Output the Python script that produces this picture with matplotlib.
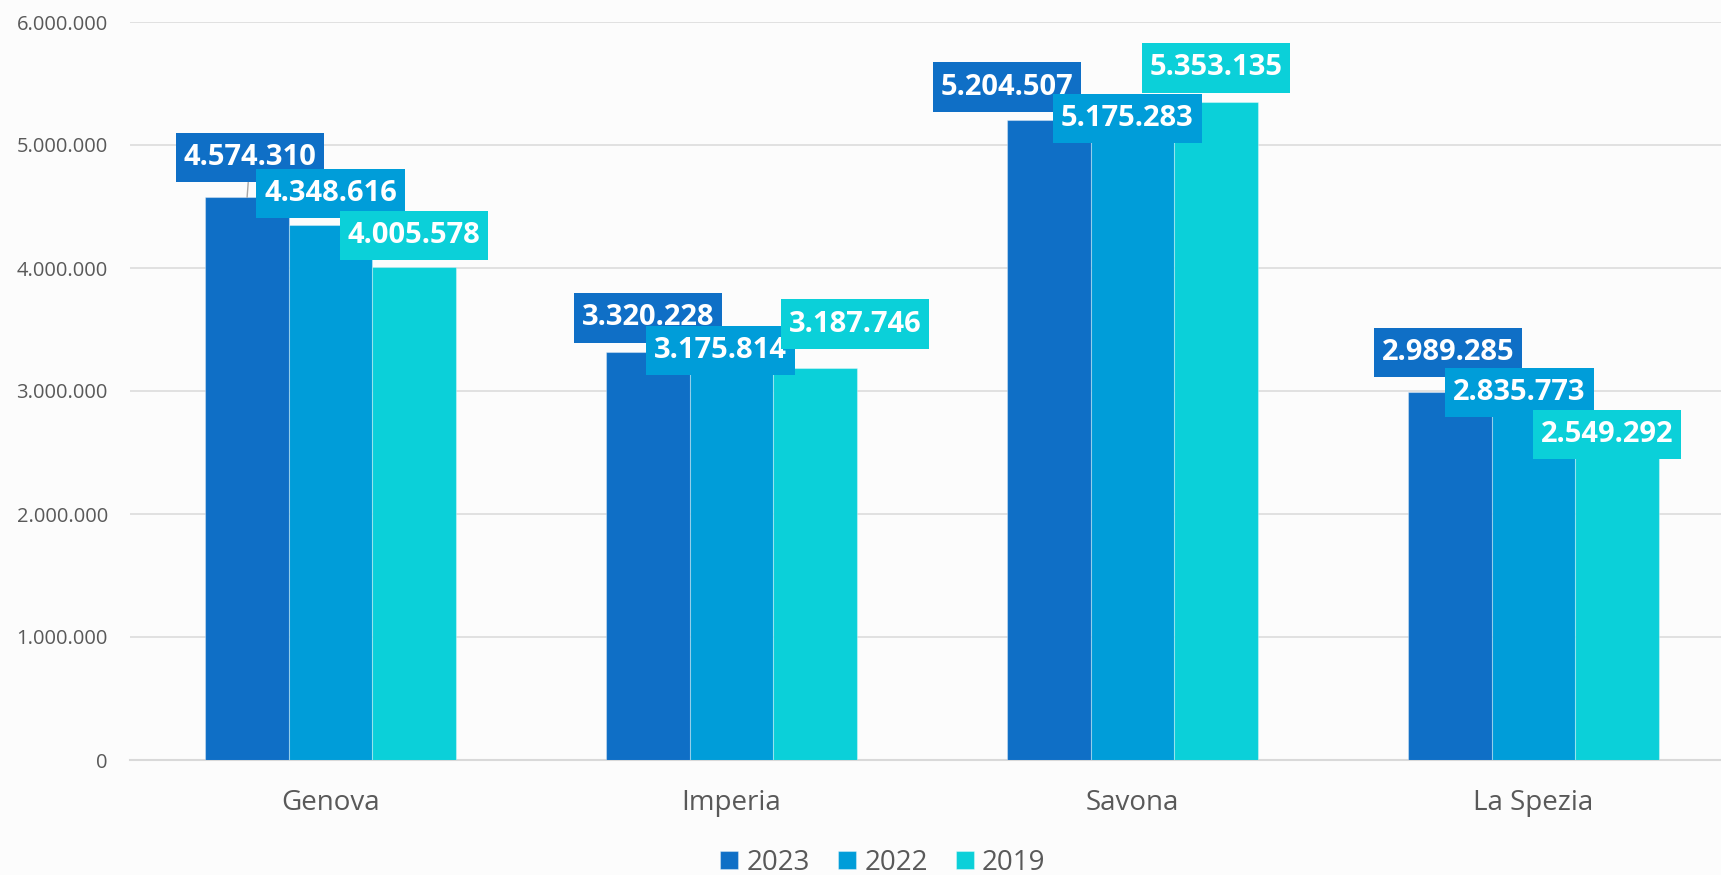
import matplotlib.pyplot as plt
import numpy as np
from matplotlib.path import Path
from matplotlib.ticker import FuncFormatter

plt.rcParams['font.family'] = ['Open Sans', 'DejaVu Sans']

province = ['Genova', 'Imperia', 'Savona', 'La Spezia']
anni = ['2023', '2022', '2019']
v2023 = [4574310, 3320228, 5204507, 2989285]
v2022 = [4348616, 3175814, 5175283, 2835773]
v2019 = [4005578, 3187746, 5353135, 2549292]
colori = ['#0F6FC6', '#009DD9', '#0BD0D9']

# spostamento manuale delle etichette (pixel): (dx, dy sopra la barra)
spost = [
    [(3, 15), (0, 7), (0, 7)],
    [(0, 9), (-11, -6), (40, 19)],
    [(-42, 8), (-5, -20), (0, 9)],
    [(-2, 15), (-14, -6), (-10, -13)],
]

PADX, PADY = 0.27, 0.35


def riquadro(x0, y0, width, height, mutation_size):
    # rettangolo con padding diverso in orizzontale e verticale
    px, py = PADX*mutation_size, PADY*mutation_size
    return Path([(x0 - px, y0 - py), (x0 + width + px, y0 - py),
                 (x0 + width + px, y0 + height + py), (x0 - px, y0 + height + py),
                 (x0 - px, y0 - py)], closed=True)


def punti(v):
    # formato italiano: 4.574.310
    return f'{int(v):,}'.replace(',', '.')


fig = plt.figure(figsize=(17.21, 8.75), dpi=100, facecolor='#FCFCFC')
ax = fig.add_axes([130/1721, 115/875, 1604/1721, 738/875])
ax.set_facecolor('none')

x = np.arange(len(province))
w = 0.208
serie = [v2023, v2022, v2019]
for i, vals in enumerate(serie):
    ax.bar(x + (i - 1)*w, vals, w, color=colori[i], label=anni[i],
           edgecolor=(1, 1, 1, 0.35), linewidth=0.8, zorder=3)

fs = 21
pady_px = PADY * fs * 100 / 72
px2pt = 72 / 100
# etichette dati, una serie alla volta (la successiva copre la precedente)
for i, vals in enumerate(serie):
    for j, v in enumerate(vals):
        dx, dy = spost[j][i]
        arrow = None
        if i == 0 and j == 0:
            arrow = dict(arrowstyle='-', color='#A6A6A6', lw=1.0,
                         shrinkA=0, shrinkB=0)
        ax.annotate(punti(v), (x[j] + (i - 1)*w, v),
                    xytext=(dx*px2pt, (dy + pady_px)*px2pt),
                    textcoords='offset points', ha='center', va='bottom',
                    fontsize=fs, fontweight='bold', color='white',
                    bbox=dict(boxstyle=riquadro, fc=colori[i], ec='none'),
                    arrowprops=arrow, zorder=5 + i, annotation_clip=False)

ax.set_xlim(-0.5, 3.5)
ax.set_ylim(0, 6000000)
ax.set_yticks(np.arange(0, 6000001, 1000000))
ax.yaxis.set_major_formatter(FuncFormatter(lambda v, p: punti(v)))
ax.set_xticks(x)
ax.set_xticklabels(province)

ax.grid(axis='y', color='#D9D9D9', lw=1.1, zorder=0)
ax.set_axisbelow(True)
for s in ['top', 'right', 'left']:
    ax.spines[s].set_visible(False)
ax.spines['bottom'].set_color('#D9D9D9')
ax.spines['bottom'].set_linewidth(1.5)
ax.tick_params(axis='y', length=0, pad=16, labelsize=14.5, labelcolor='#595959')
ax.tick_params(axis='x', length=0, pad=21, labelsize=20, labelcolor='#595959')

fig.legend(loc='center', bbox_to_anchor=(0.513, 0.014), ncol=3, frameon=False,
           fontsize=20, labelcolor='#595959', handlelength=0.65, handleheight=0.65,
           handletextpad=0.3, columnspacing=1.0)

fig.savefig('out.png', dpi=100, facecolor=fig.get_facecolor())
